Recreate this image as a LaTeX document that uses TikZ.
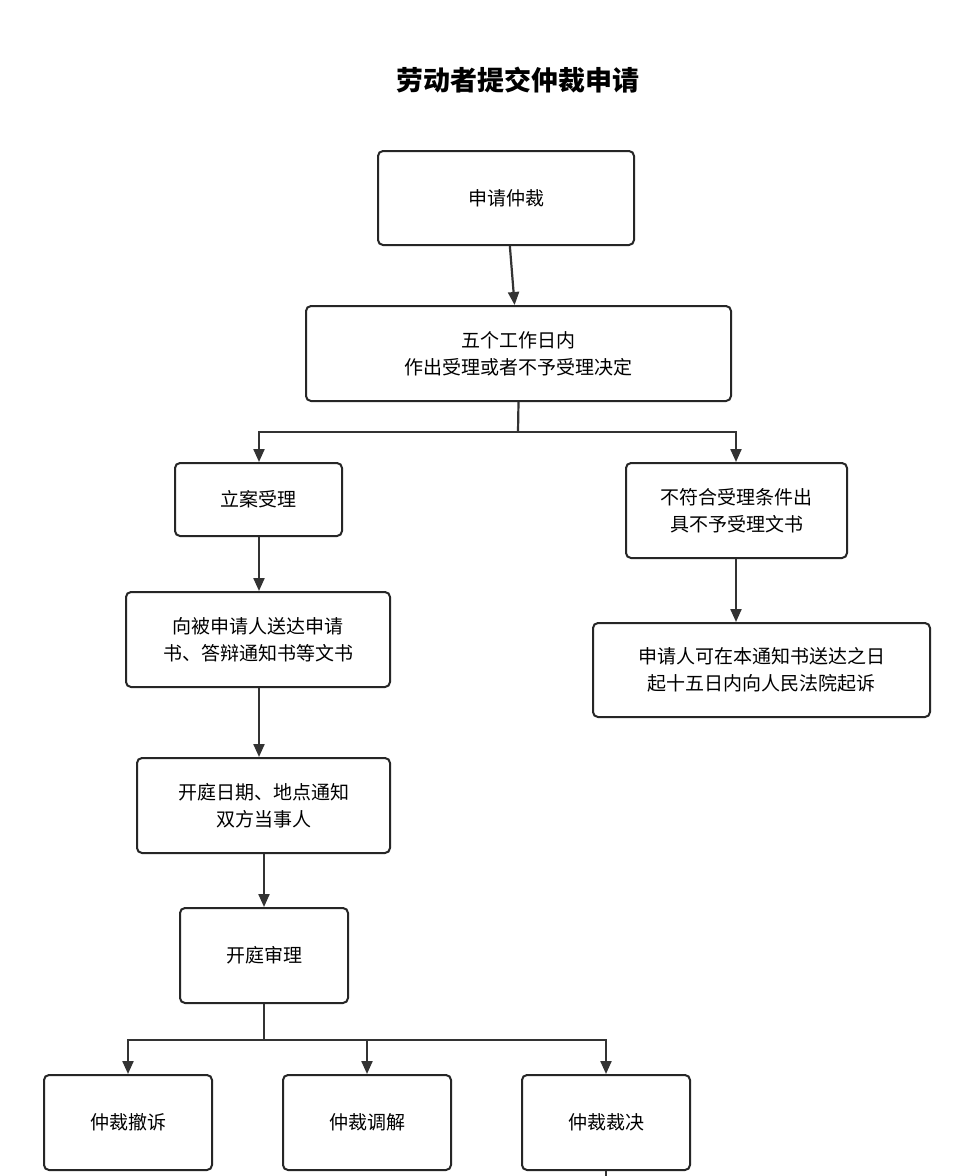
\documentclass[tikz,border=0pt]{standalone}
\usepackage{fontspec}
\setmainfont{Noto Sans CJK SC}
\usetikzlibrary{arrows.meta}
\begin{document}
\begin{tikzpicture}[x=1pt,y=-1pt,
  box/.style={draw=black!85,line width=2pt,rounded corners=5pt,align=center,font=\fontsize{19}{27}\selectfont,inner sep=0pt},
  ln/.style={draw=black!80,line width=2.2pt},
  ar/.style={ln,-{Triangle[length=13pt,width=11pt]}}]
\useasboundingbox[fill=white] (0,0) rectangle (974,1176);
\node[font=\fontsize{27}{30}\selectfont\bfseries] (t) at (518,80) {劳动者提交仲裁申请};
\newcommand\bx[6]{\node[box,minimum width=#4-#2,minimum height=#5-#3] (#1) at ({(#2+#4)/2},{(#3+#5)/2}) {#6};}
\bx{b1}{378}{151}{634}{245}{申请仲裁}
\bx{b2}{306}{306}{731}{401}{五个工作日内\\作出受理或者不予受理决定}
\bx{b3}{175}{463}{342}{536}{立案受理}
\bx{b4}{626}{463}{847}{558}{不符合受理条件出\\具不予受理文书}
\bx{b5}{126}{592}{390}{687}{向被申请人送达申请\\书、答辩通知书等文书}
\bx{b6}{593}{623}{930}{717}{申请人可在本通知书送达之日\\起十五日内向人民法院起诉}
\bx{b7}{137}{758}{390}{853}{开庭日期、地点通知\\双方当事人}
\bx{b8}{180}{908}{348}{1003}{开庭审理}
\bx{b9}{44}{1075}{212}{1170}{仲裁撤诉}
\bx{b10}{283}{1075}{451}{1170}{仲裁调解}
\bx{b11}{522}{1075}{690}{1170}{仲裁裁决}
\coordinate (j1) at (518,432);
\coordinate (j2) at (264,1040);
\coordinate (e) at (606,1176);
\draw[ar] (b1) -- (b2);
\draw[ln] (b2.south) -- (j1);
\draw[ar] (j1) -| (b3.north -| 259,0);
\draw[ar] (j1) -| (b4.north -| 736,0);
\draw[ar] (b3.south -| 259,0) -- (b5.north -| 259,0);
\draw[ar] (b4.south -| 736,0) -- (b6.north -| 736,0);
\draw[ar] (b5.south -| 259,0) -- (b7.north -| 259,0);
\draw[ar] (b7.south -| 264,0) -- (b8.north -| 264,0);
\draw[ln] (b8.south -| 264,0) -- (j2);
\draw[ar] (j2) -| (b9.north -| 128,0);
\draw[ar] (j2) -| (b10.north -| 367,0);
\draw[ar] (j2) -| (b11.north -| 606,0);
\draw[ln] (b11.south -| 606,0) -- (e);
\end{tikzpicture}
\end{document}
